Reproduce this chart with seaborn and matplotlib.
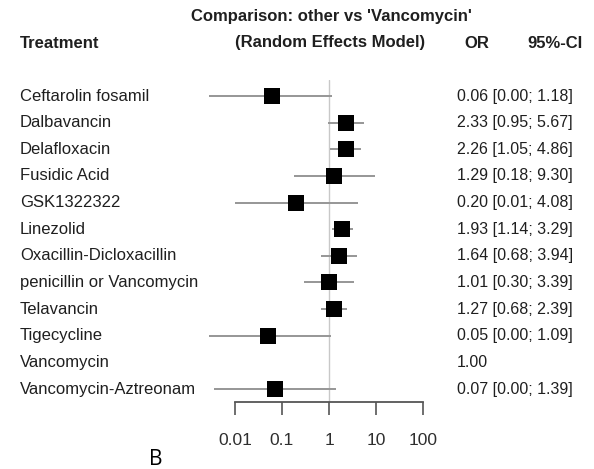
import numpy as np
import pandas as pd
import seaborn as sns
import matplotlib
matplotlib.use('Agg')
import matplotlib.pyplot as plt
import matplotlib.transforms as mtransforms

# data (lower bounds shown as 0.00 are tiny positive values)
treatments = ['Ceftarolin fosamil', 'Dalbavancin', 'Delafloxacin', 'Fusidic Acid',
              'GSK1322322', 'Linezolid', 'Oxacillin-Dicloxacillin',
              'penicillin or Vancomycin', 'Telavancin', 'Tigecycline',
              'Vancomycin', 'Vancomycin-Aztreonam']
odds_ratio = [0.06, 2.33, 2.26, 1.29, 0.20, 1.93, 1.64, 1.01, 1.27, 0.05, 1.00, 0.07]
ci_lower = [0.0028, 0.95, 1.05, 0.18, 0.01, 1.14, 0.68, 0.30, 0.68, 0.0028, np.nan, 0.0036]
ci_upper = [1.18, 5.67, 4.86, 9.30, 4.08, 3.29, 3.94, 3.39, 2.39, 1.09, np.nan, 1.39]
reference = 'Vancomycin'
x_ticks = [0.01, 0.1, 1, 10, 100]

df = pd.DataFrame({'Treatment': treatments, 'OR': odds_ratio,
                   'lower': ci_lower, 'upper': ci_upper})
df['row'] = np.arange(len(df))

sns.set_theme(style='white')
plt.rcParams['font.family'] = ['Liberation Sans', 'DejaVu Sans']

W, H = 594, 469
fig = plt.figure(figsize=(W / 100, H / 100), dpi=100)

# forest panel: x=1 at pixel ~329, 47 px per decade
px1, px_dec = 329, 47
left_px, right_px = 185, 440
top_px, bot_px = 80, 402
ax = fig.add_axes([left_px / W, 1 - bot_px / H, (right_px - left_px) / W, (bot_px - top_px) / H])
ax.set_xscale('log')
ax.set_xlim(10 ** ((left_px - px1) / px_dec), 10 ** ((right_px - px1) / px_dec))
row_h = (389 - 96) / 11
ax.set_ylim(11 + (bot_px - 389) / row_h, -(96 - top_px) / row_h)

ax.axvline(1, color='#c8c8c8', lw=1.0, zorder=0)
ci = df.dropna(subset=['lower'])
ax.hlines(ci['row'], ci['lower'], ci['upper'], color='#969696', lw=1.4, zorder=1)
sns.scatterplot(data=df[df.Treatment != reference], x='OR', y='row', marker='s',
                s=128, color='black', linewidth=0, ax=ax, zorder=2, legend=False)

for side in ['top', 'right', 'left']:
    ax.spines[side].set_visible(False)
ax.spines['bottom'].set_bounds(x_ticks[0], x_ticks[-1])
ax.spines['bottom'].set_color('#555555')
ax.spines['bottom'].set_linewidth(1.3)
ax.set_xticks(x_ticks)
ax.set_xticklabels([f'{t:g}' for t in x_ticks])
ax.xaxis.set_minor_locator(matplotlib.ticker.NullLocator())
ax.tick_params(axis='x', bottom=True, direction='out', length=9.5, width=1.2,
               color='#555555', labelsize=12.5, labelcolor='#2e2e2e', pad=13)
ax.set_yticks([])
ax.set_xlabel('')
ax.set_ylabel('')
ax.set_facecolor('none')

# text columns
tr = mtransforms.blended_transform_factory(fig.transFigure, ax.transData)
txt = '#1f1f1f'
for _, r in df.iterrows():
    ax.text(20 / W, r['row'], r['Treatment'], transform=tr, ha='left', va='center',
            fontsize=12, color=txt)
    if np.isnan(r['lower']):
        label = f"{r['OR']:.2f}"
    else:
        label = f"{r['OR']:.2f} [{r['lower']:.2f}; {r['upper']:.2f}]"
    ax.text(457 / W, r['row'], label, transform=tr, ha='left', va='center',
            fontsize=11.5, color=txt)

fig.text(331 / W, 1 - 16 / H, "Comparison: other vs 'Vancomycin'", ha='center', va='center',
         fontsize=12, fontweight='bold', color=txt)
fig.text(20 / W, 1 - 43 / H, 'Treatment', ha='left', va='center',
         fontsize=12, fontweight='bold', color=txt)
fig.text(330 / W, 1 - 42 / H, '(Random Effects Model)', ha='center', va='center',
         fontsize=12, fontweight='bold', color=txt)
fig.text(477 / W, 1 - 43 / H, 'OR', ha='center', va='center',
         fontsize=12, fontweight='bold', color=txt)
fig.text(555 / W, 1 - 43 / H, '95%-CI', ha='center', va='center',
         fontsize=12, fontweight='bold', color=txt)
fig.text(156 / W, 1 - 459 / H, 'B', ha='center', va='center',
         fontsize=15, color='black', family=['Open Sans', 'DejaVu Sans'])

fig.savefig('out.png', dpi=100, facecolor='white')
